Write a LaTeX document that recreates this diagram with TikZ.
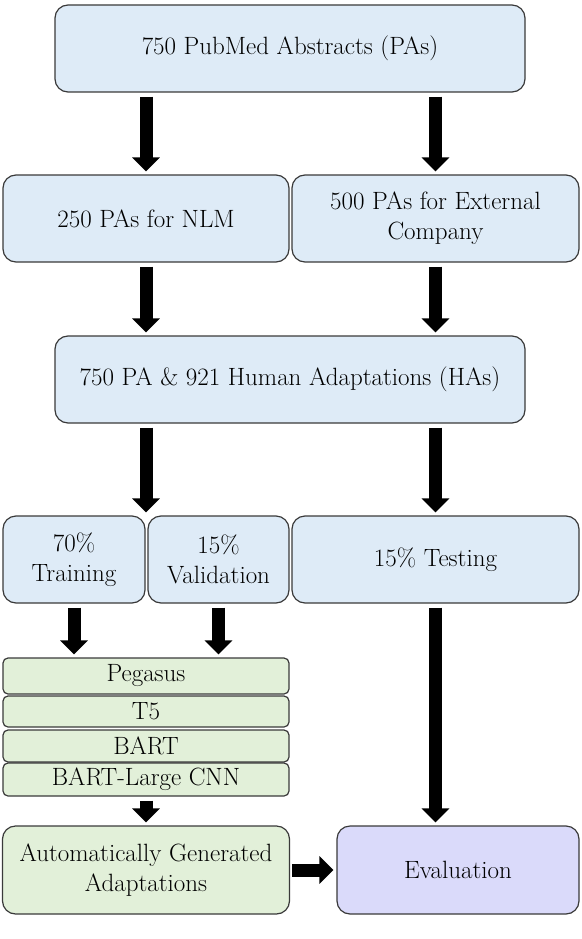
\documentclass[tikz,border=0pt]{standalone}
\usepackage{tikz}
\usetikzlibrary{arrows.meta}
\definecolor{boxblue}{HTML}{DEEBF7}
\definecolor{boxgreen}{HTML}{E2F0D9}
\definecolor{boxpurple}{HTML}{DADAFA}
\definecolor{boxline}{HTML}{3A3A3A}
\tikzset{
	box/.style = {draw=boxline, line width=1.2pt, rounded corners=13pt, align=center,
		inner sep=0pt, minimum height=87pt, font=\fontsize{25}{30}\selectfont},
	model/.style = {box, fill=boxgreen, rounded corners=5pt, minimum width=286pt},
	fat/.style = {line width=13pt, -{Triangle[width=27pt, length=14pt]},
		shorten <=4pt, shorten >=3pt}
}
\begin{document}
\begin{tikzpicture}[x=1pt, y=-1pt]
				\useasboundingbox (0,0) rectangle (581,939);
				\node[box, fill=boxblue, minimum width=470pt] (pubmed) at (290,48.5) {750 PubMed Abstracts (PAs)};
				\node[box, fill=boxblue, minimum width=286pt] (nlm) at (146,218.5) {250 PAs for NLM};
				\node[box, fill=boxblue, minimum width=287pt] (extco) at (435.5,218.5) {500 PAs for External\\Company};
				\node[box, fill=boxblue, minimum width=470pt] (human) at (290,379.5) {750 PA \& 921 Human Adaptations (HAs)};
				\node[box, fill=boxblue, minimum width=142pt] (train) at (74,559.5) {70\%\\Training};
				\node[box, fill=boxblue, minimum width=141pt] (valid) at (218.5,559.5) {15\%\\Validation};
				\node[box, fill=boxblue, minimum width=287pt] (test) at (435.5,559.5) {15\% Testing};
				\node[model, minimum height=36pt] (pegasus) at (146,676) {Pegasus};
				\node[model, minimum height=31pt] (tfive) at (146,711.5) {T5};
				\node[model, minimum height=32pt] (bart) at (146,746) {BART};
				\node[model, minimum height=33pt] (cnn) at (146,779.5) {BART-Large CNN};
				\node[box, fill=boxgreen, minimum width=287pt, minimum height=88pt] (auto) at (146,870) {Automatically Generated\\Adaptations};
				\node[box, fill=boxpurple, minimum width=242pt, minimum height=88pt] (eval) at (458,870) {Evaluation};
				\draw[fat] (pubmed.south -| nlm) -- (nlm.north);
				\draw[fat] (pubmed.south -| extco) -- (extco.north);
				\draw[fat] (nlm.south) -- (human.north -| nlm);
				\draw[fat] (extco.south) -- (human.north -| extco);
				\draw[fat] (human.south -| pegasus) -- (train.north -| pegasus);
				\draw[fat] (human.south -| test) -- (test.north);
				\draw[fat] (train.south) -- (pegasus.north -| train);
				\draw[fat] (valid.south) -- (pegasus.north -| valid);
				\draw[fat] (cnn.south) -- (auto.north);
				\draw[fat] (test.south) -- (eval.north -| test);
				\draw[fat, shorten <=2pt] (auto.east) -- (eval.west);
			\end{tikzpicture}
\end{document}
